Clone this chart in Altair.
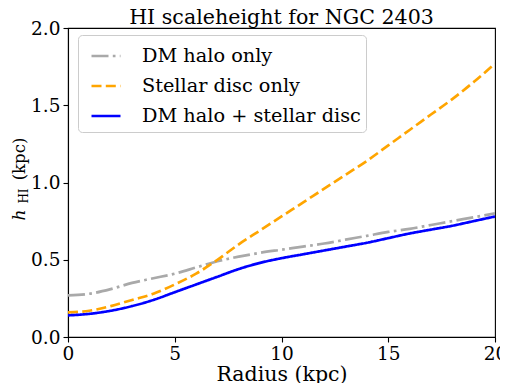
import altair as alt
import pandas as pd

radius = [0, 1, 2, 3, 4, 5, 6, 7, 8, 9, 10, 11, 12, 13, 14, 15, 16, 17, 18, 19, 20]
dm_halo = [0.27, 0.28, 0.31, 0.35, 0.38, 0.41, 0.45, 0.49, 0.52, 0.545, 0.565, 0.585, 0.605, 0.63, 0.655, 0.68, 0.70, 0.725, 0.75, 0.775, 0.80]
stellar = [0.16, 0.17, 0.20, 0.24, 0.28, 0.34, 0.41, 0.50, 0.60, 0.69, 0.78, 0.87, 0.96, 1.05, 1.14, 1.24, 1.34, 1.44, 1.54, 1.65, 1.77]
combined = [0.14, 0.15, 0.17, 0.20, 0.24, 0.29, 0.34, 0.39, 0.44, 0.48, 0.51, 0.535, 0.56, 0.585, 0.61, 0.64, 0.67, 0.695, 0.72, 0.75, 0.78]

series_names = ["DM halo only", "Stellar disc only", "DM halo + stellar disc"]
series_colors = ["darkgray", "orange", "blue"]
series_dashes = [[17, 4.3, 2.7, 4.3], [10, 4.3], [1, 0]]
title_text = ["HI scaleheight for NGC 2403"]

rows = []
for name, vals in zip(series_names, [dm_halo, stellar, combined]):
    for r, v in zip(radius, vals):
        rows.append({"radius": r, "h": v, "series": name})
df = pd.DataFrame(rows)

FONT = "DejaVu Serif"

legend = alt.Legend(
    title=None, orient="none", legendX=10, legendY=7,
    symbolType="stroke", symbolSize=841, symbolStrokeWidth=2.7, symbolOffset=7,
    labelFont=FONT, labelFontSize=19.3, labelColor="black", labelOffset=20, labelLimit=400,
    rowPadding=3, padding=5, strokeColor="#cccccc", cornerRadius=4,
    fillColor="white",
)

lines = alt.Chart(df).mark_line(strokeWidth=2.7, interpolate="monotone", clip=True).encode(
    x=alt.X("radius:Q", scale=alt.Scale(domain=[0, 20], nice=False),
            axis=alt.Axis(values=[0, 5, 10, 15, 20], title="Radius (kpc)", format="d", labelFlush=False)),
    y=alt.Y("h:Q", scale=alt.Scale(domain=[0, 2], nice=False),
            axis=alt.Axis(values=[0, 0.5, 1.0, 1.5, 2.0], format=".1f", title=None, labelFlush=False)),
    color=alt.Color("series:N", scale=alt.Scale(domain=series_names, range=series_colors), legend=legend),
    strokeDash=alt.StrokeDash("series:N", scale=alt.Scale(domain=series_names, range=series_dashes), legend=legend),
    order=alt.value(0),
)

title_mark = alt.Chart(pd.DataFrame({"t": title_text})).mark_text(
    font=FONT, fontSize=20.6, align="center", baseline="alphabetic", color="black"
).encode(text="t:N", x=alt.value(213.5), y=alt.value(-4.5))

ytitle_h = alt.Chart(pd.DataFrame({"t": ["h"]})).mark_text(
    angle=270, font=FONT, fontSize=17, fontStyle="italic", align="center", baseline="alphabetic", color="black"
).encode(text="t:N", x=alt.value(-43.5), y=alt.value(187))
ytitle_sub = alt.Chart(pd.DataFrame({"t": ["HI"]})).mark_text(
    angle=270, font=FONT, fontSize=12, align="center", baseline="alphabetic", color="black"
).encode(text="t:N", x=alt.value(-40.5), y=alt.value(168))
ytitle_unit = alt.Chart(pd.DataFrame({"t": ["(kpc)"]})).mark_text(
    angle=270, font=FONT, fontSize=16.5, align="center", baseline="alphabetic", color="black"
).encode(text="t:N", x=alt.value(-43), y=alt.value(131))

chart = alt.layer(lines, title_mark, ytitle_h, ytitle_sub, ytitle_unit).properties(
    width=427, height=309,
    autosize=alt.AutoSizeParams(type="none"),
    padding={"left": 60, "top": 20, "right": 5, "bottom": 50},
).configure(font=FONT).configure_view(stroke="black", strokeWidth=1.1).configure_axis(
    labelFont=FONT, labelFontSize=18.5, labelColor="black",
    titleFont=FONT, titleFontSize=20.5, titleFontWeight="normal", titleColor="black",
    grid=False, domainColor="black", domainWidth=1.1, tickColor="black", tickWidth=1.1,
    tickSize=5, labelPadding=2,
).configure_axisX(titlePadding=2).configure_axisY(labelPadding=3)

chart.save("out.html", embed_options={"renderer": "svg", "actions": False})
